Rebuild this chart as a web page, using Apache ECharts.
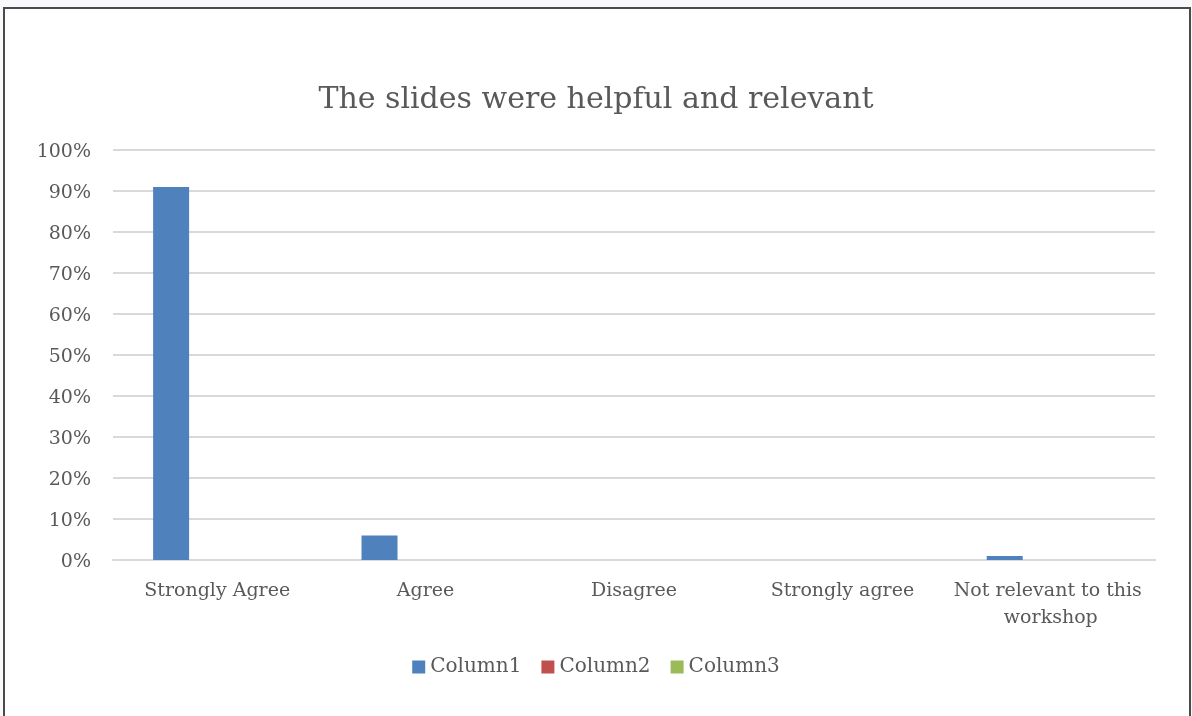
<!DOCTYPE html>
<html>
<head>
<meta charset="utf-8">
<script src="https://cdn.jsdelivr.net/npm/echarts@6/dist/echarts.min.js"></script>
<style>
html,body{margin:0;padding:0;background:#f9f9fc;}
#frame{position:absolute;left:3px;top:7px;width:1188px;height:720px;border:2px solid #4a4a4a;background:#fff;box-sizing:border-box;}
#chart{position:absolute;left:0;top:0;width:1192px;height:716px;}
</style>
</head>
<body>
<div id="frame"></div>
<div id="chart"></div>
<script>
const categories = ["Strongly Agree", "Agree", "Disagree", "Strongly agree", "Not relevant to this workshop"];
const column1 = [0.91, 0.06, 0, 0, 0.01];
const column2 = [null, null, null, null, null];
const column3 = [null, null, null, null, null];
const seriesNames = ["Column1", "Column2", "Column3"];
const yTicks = { min: 0, max: 1, interval: 0.1 };

const font = '"DejaVu Serif", serif';
const textColor = '#595959';
const chart = echarts.init(document.getElementById('chart'), null, { renderer: 'canvas' });
chart.setOption({
  backgroundColor: 'transparent',
  animation: false,
  color: ['#4F81BD', '#C0504D', '#9BBB59'],
  title: {
    text: 'The slides were helpful and relevant',
    left: 'center', top: 80,
    textStyle: { fontFamily: font, fontSize: 30, fontWeight: 'normal', color: textColor }
  },
  legend: {
    bottom: 34, left: 'center',
    itemWidth: 13, itemHeight: 13, itemGap: 20,
    icon: 'rect',
    textStyle: { fontFamily: font, fontSize: 20, color: textColor },
    data: seriesNames
  },
  grid: { left: 113, right: 37, top: 150, bottom: 156, containLabel: false },
  xAxis: {
    type: 'category', data: categories,
    axisLine: { lineStyle: { color: '#d9d9d9', width: 2 } },
    axisTick: { show: false },
    axisLabel: { fontFamily: font, fontSize: 19, color: textColor, margin: 18, lineHeight: 27, width: 200, overflow: 'break', interval: 0 }
  },
  yAxis: {
    type: 'value', min: yTicks.min, max: yTicks.max, interval: yTicks.interval,
    axisLine: { show: false }, axisTick: { show: false },
    splitLine: { lineStyle: { color: '#d9d9d9', width: 2 } },
    axisLabel: { fontFamily: font, fontSize: 19, color: textColor, margin: 22, lineHeight: 20, verticalAlign: 'top', padding: [-8, 0, 0, 0],
      formatter: v => Math.round(v * 100) + '%' }
  },
  series: [
    { name: seriesNames[0], type: 'bar', data: column1, barWidth: 36, barGap: '28%' },
    { name: seriesNames[1], type: 'bar', data: column2, barWidth: 36, barGap: '28%' },
    { name: seriesNames[2], type: 'bar', data: column3, barWidth: 36, barGap: '28%' }
  ]
});
</script>
</body>
</html>
